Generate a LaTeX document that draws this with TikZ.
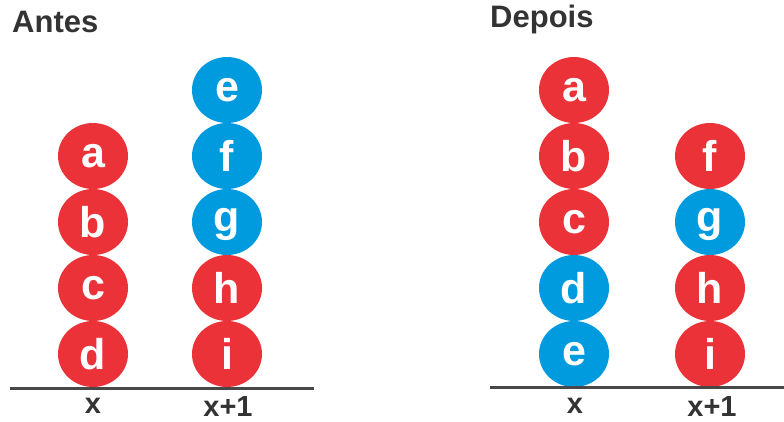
\documentclass[tikz,border=0pt]{standalone}
\usepackage{fontspec}
\setmainfont{Liberation Sans}
\usetikzlibrary{shapes.geometric}
\definecolor{ballred}{RGB}{236,50,57}
\definecolor{ballblue}{RGB}{0,155,222}
\definecolor{inkgray}{RGB}{51,51,51}
\definecolor{groundgray}{RGB}{72,72,72}

\begin{document}
\begin{tikzpicture}[x=1pt, y=-1pt,
    ball/.style = {ellipse, minimum width=70pt, minimum height=66pt, inner sep=0pt,
                   text=white, font=\fontsize{43}{43}\selectfont\bfseries},
    redball/.style = {ball, fill=ballred},
    blueball/.style = {ball, fill=ballblue},
    title/.style = {anchor=base west, inner sep=0pt, text=inkgray,
                    font=\fontsize{31}{31}\selectfont\bfseries},
    slot/.style = {anchor=base, inner sep=0pt, text=inkgray,
                   font=\fontsize{29}{29}\selectfont\bfseries},
    ground/.style = {draw=groundgray, line width=3pt}]
    \useasboundingbox (0,0) rectangle (784,422);

    % Antes
    \node[title] (antes) at (12,33) {Antes};

    \node[redball] (la) at (93,156) {a};
    \node[redball] (lb) at (93,222) {b};
    \node[redball] (lc) at (93,288) {c};
    \node[redball] (ld) at (93,354) {d};

    \node[blueball] (le) at (227,90) {e};
    \node[blueball] (lf) at (227,156) {f};
    \node[blueball, text height=29pt] (lg) at (227,222) {g};
    \node[redball] (lh) at (227,288) {h};
    \node[redball] (li) at (227,354) {i};

    \coordinate (lg1) at (10,388.5);
    \coordinate (lg2) at (314,388.5);
    \draw[ground] (lg1) -- (lg2);

    \node[slot] (lx) at (93,413) {x};
    \node[slot] (lx1) at (228,416) {x+1};

    % Depois
    \node[title] (depois) at (490,28) {Depois};

    \node[redball] (ra) at (574,90) {a};
    \node[redball] (rb) at (574,156) {b};
    \node[redball] (rc) at (574,222) {c};
    \node[blueball] (rd) at (574,288) {d};
    \node[blueball] (re) at (574,354) {e};

    \node[redball] (rf) at (710,156) {f};
    \node[blueball, text height=29pt] (rg) at (710,222) {g};
    \node[redball] (rh) at (710,288) {h};
    \node[redball] (ri) at (710,354) {i};

    \coordinate (rg1) at (490,387.5);
    \coordinate (rg2) at (784,387.5);
    \draw[ground] (rg1) -- (rg2);

    \node[slot] (rx) at (575,413) {x};
    \node[slot] (rx1) at (712,416) {x+1};
\end{tikzpicture}
\end{document}
